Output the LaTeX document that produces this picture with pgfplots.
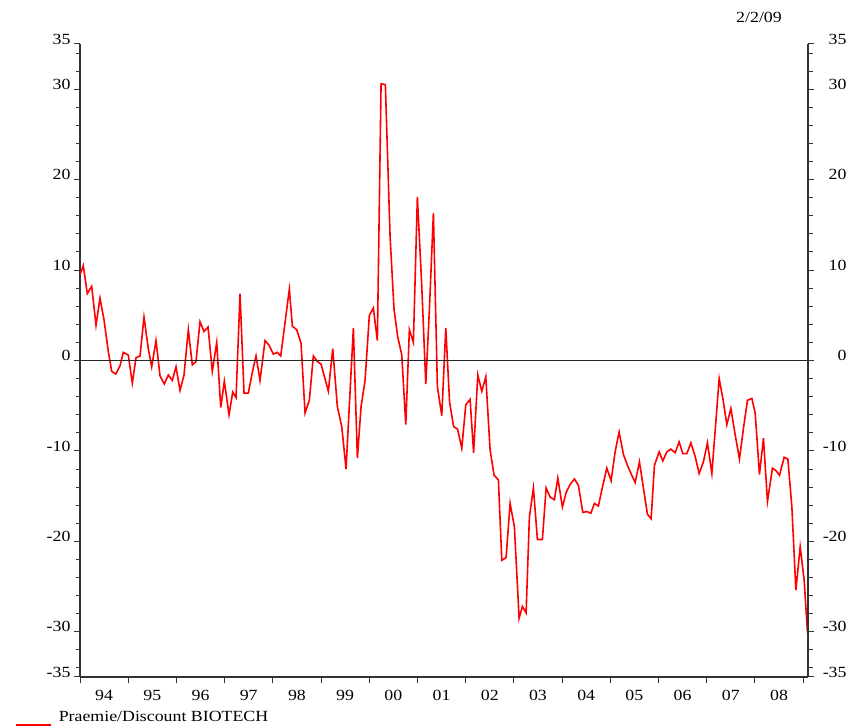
\documentclass[border=0pt]{standalone}
\usepackage{fontspec}
\setmainfont{Liberation Serif}[FakeStretch=1.15]
\usepackage{pgfplots}
\usepackage{pgfplotstable}
\pgfplotsset{compat=1.18}

\pgfplotstableread{
px v
80 9.5
83.3 10.5
87.3 7.4
91.7 8.2
96 3.9
100 6.9
104 4.5
108.3 1.0
111.7 -1.2
115.7 -1.5
120 -0.6
123.3 0.9
128.3 0.6
132.3 -2.5
136 0.3
140 0.5
144 4.8
148.3 1.3
151.7 -0.7
156 2.2
160 -1.7
164.3 -2.6
168.3 -1.6
172.3 -2.2
176 -0.7
180 -3.3
184 -1.6
188.3 3.4
192.3 -0.5
196 -0.1
200 4.3
204 3.2
208 3.7
212.3 -1.2
216.7 2.0
220.7 -5.2
224.3 -2.3
229 -6.0
232.7 -3.5
236 -4.1
240 7.4
244 -3.6
248.3 -3.6
252.3 -1.3
256 0.5
260 -2.2
265 2.2
269 1.7
273.3 0.7
277.3 0.9
280.7 0.5
289.3 7.9
292.3 3.8
296.7 3.4
301 1.9
305 -5.8
309.3 -4.4
313.3 0.5
317.3 -0.1
321 -0.4
328.3 -3.4
332.7 1.3
337.3 -5.1
341.7 -7.3
346 -12.0
353.3 3.6
357.3 -10.8
361 -5.1
365 -2.2
369.3 5.0
373.3 5.8
377.3 2.2
381 30.6
385.3 30.5
390 13.7
394 5.6
397.7 2.6
401.7 0.6
405.7 -7.1
409.3 3.4
413.3 2.0
417.3 18.1
421.7 8.2
425.7 -2.6
429.3 5.6
433.3 16.3
437.3 -2.9
441.7 -6.1
445.7 3.6
449.5 -4.6
453.5 -7.3
457.5 -7.6
461.7 -9.7
465.7 -4.9
470 -4.3
473.5 -10.2
477.7 -1.6
481.7 -3.4
485.7 -1.8
490 -9.9
494 -12.7
498.3 -13.2
501.7 -22.1
506 -21.8
510 -15.8
514.3 -18.4
519 -28.5
522.3 -27.2
526 -27.9
529.3 -17.3
533.3 -14.1
537.3 -19.8
542.3 -19.8
546 -14.1
550 -15.1
554.3 -15.4
557.7 -13.0
562.3 -16.2
566 -14.6
570 -13.7
574.3 -13.1
578.3 -13.8
582.7 -16.8
586.7 -16.7
590.7 -16.9
594.3 -15.8
598.3 -16.1
602.3 -14.0
606.7 -11.9
611 -13.3
615 -10.1
619 -7.9
623.3 -10.4
627.7 -11.7
631.7 -12.7
635 -13.5
639.3 -11.2
643.3 -14.1
647.3 -17.0
651 -17.5
654.3 -11.6
659 -10.1
662.7 -11.1
666.7 -10.1
670.7 -9.8
675 -10.2
679 -9.0
682.7 -10.3
686.7 -10.3
690.7 -9.1
695 -10.6
699 -12.5
703.3 -11.2
707.3 -9.1
711.7 -12.5
719 -2.0
722.7 -4.2
726.7 -7.1
730.7 -5.3
735 -8.2
739.3 -10.9
743.3 -7.5
747.3 -4.4
751.7 -4.2
755 -5.8
759.3 -12.6
763.3 -8.6
767.3 -15.6
772.3 -11.9
776 -12.2
779.3 -12.7
784 -10.7
787.7 -10.9
791.7 -16.2
795.7 -25.4
800 -20.6
804 -24.3
807.3 -30.1
}\biotech

\begin{document}
\begin{tikzpicture}
\path[use as bounding box] (0pt,0pt) rectangle (852pt,726pt);
\pgfplotsset{
  common/.style={
    scale only axis, width=728pt, height=633pt,
    at={(80pt,49pt)}, anchor=south west,
    xmin=1994, xmax=2009.1, ymin=-35, ymax=35,
    axis line style={line width=1.3pt, color=black!80},
    tick style={line width=1pt, color=black!80},
    tick align=outside,
    major tick length=6pt, minor tick length=4.5pt,
    ytick={-35,-30,-20,-10,0,10,20,30,35},
    yticklabels={-35,-30,-20,-10,0,10,20,30,35},
    minor ytick={-34,-32,-28,-26,-24,-22,-18,-16,-14,-12,-8,-6,-4,-2,2,4,6,8,12,14,16,18,22,24,26,28,32,34},
    tick label style={font=\fontsize{15.5}{18}\selectfont},
  }
}
\begin{axis}[common,
    axis x line*=bottom, axis y line*=left,
    xtick={1994,...,2009},
    xticklabels={94,95,96,97,98,99,00,01,02,03,04,05,06,07,08},
    x tick label as interval,
    xticklabel style={yshift=-4pt},
    yticklabel style={yshift=5pt},
    legend style={at={(axis description cs:0,0)}, anchor=north west,
      xshift=-68pt, yshift=-30pt, draw=none, fill=none, column sep=5pt,
      font=\fontsize{15.5}{18}\selectfont},
    legend image code/.code={\draw[#1] (0pt,-8pt) -- (35pt,-8pt);},
  ]
  \addplot[red, line width=1.6pt] table[x expr={1994+(\thisrow{px}-80)/48.2}, y=v] {\biotech};
  \addlegendentry{Praemie/Discount BIOTECH}
  \addplot[black!85, line width=1pt, forget plot] coordinates {(1994,0) (2009.1,0)};
\end{axis}
\begin{axis}[common,
    axis x line=none, axis y line*=right,
    yticklabel style={yshift=5pt, text width=29pt, align=right},
  ]
\end{axis}
\node[font=\fontsize{15.5}{18}\selectfont] at (759pt,709pt) {2/2/09};
\end{tikzpicture}
\end{document}
